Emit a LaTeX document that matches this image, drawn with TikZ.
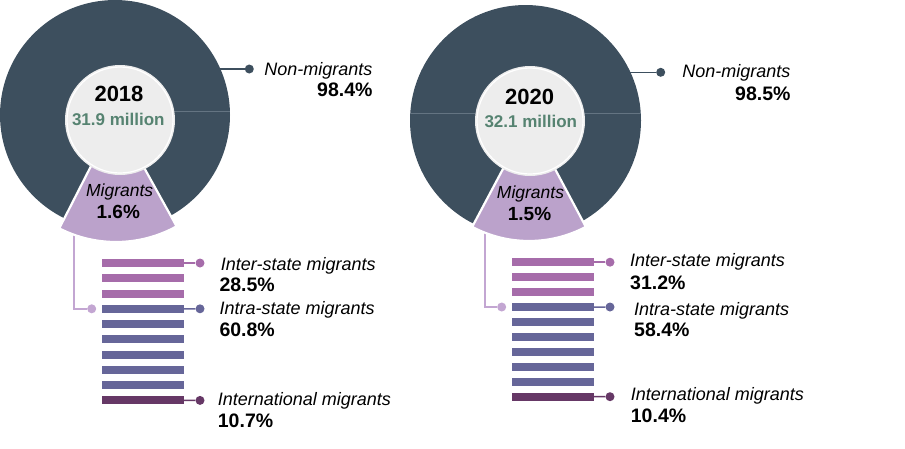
\documentclass[tikz,border=0pt]{standalone}
\usepackage{fontspec}
\setmainfont{Liberation Sans}
\definecolor{ringcol}{RGB}{61,79,94}
\definecolor{ringline}{RGB}{100,116,130}
\definecolor{wedgecol}{RGB}{187,162,203}
\definecolor{innerfill}{RGB}{237,237,237}
\definecolor{millioncol}{RGB}{86,131,113}
\definecolor{intercol}{RGB}{166,108,170}
\definecolor{intracol}{RGB}{102,102,153}
\definecolor{intlcol}{RGB}{102,56,102}
\definecolor{linkcol}{RGB}{195,166,210}
\begin{document}
\begin{tikzpicture}[x=1pt,y=-1pt,
  dot/.style={circle,inner sep=0pt,minimum size=9pt},
  barbox/.style={rectangle,inner sep=0pt,minimum width=82pt,minimum height=8pt},
  lbl/.style={font=\fontsize{18}{20}\selectfont\itshape,inner sep=0pt},
  pct/.style={font=\fontsize{19.5}{22}\selectfont\bfseries,inner sep=0pt},
  yearlbl/.style={font=\fontsize{22}{24}\selectfont\bfseries,inner sep=0pt,anchor=base},
  millbl/.style={font=\fontsize{17}{19}\selectfont\bfseries,text=millioncol,inner sep=0pt,anchor=base},
  miglbl/.style={font=\fontsize{17.5}{19}\selectfont\itshape,inner sep=0pt,anchor=base},
  migpct/.style={font=\fontsize{19}{21}\selectfont\bfseries,inner sep=0pt,anchor=base},
  link/.style={line width=1.5pt}
]
\useasboundingbox (0,0) rectangle (905,448);

% ================= Chart 2018 =================
\coordinate (c1) at (115,115);
\coordinate (e1) at (216,69);
\coordinate (w1) at (74,230);
\node[dot, fill=linkcol] (l1) at (91.7,308.8) {};
\draw[linkcol, link] (w1) |- (l1);
\fill[ringcol] (c1) circle[radius=115];
\draw[ringline, line width=0.8pt] (170,111) -- (229.9,111);
\filldraw[fill=wedgecol, draw=white, line width=2.2pt] (116,117) -- +(61:125) arc[start angle=61, end angle=117, radius=125] -- cycle;
\fill[innerfill] (120,120) circle[radius=55];
\draw[white, line width=1.2pt] (120,120) circle[radius=53];
\node[yearlbl] (y1) at (119,101.7) {2018};
\node[millbl] (m1) at (118.3,125) {31.9 million};
\node[miglbl] (g1) at (119.7,196) {Migrants};
\node[migpct] (p1) at (118.3,218.3) {1.6\%};

\node[dot, fill=ringcol] (n1) at (249.3,69) {};
\draw[ringcol, link] (e1) -- (n1);
\node[lbl, anchor=base east] (nl1) at (372.7,75) {Non-migrants};
\node[pct, anchor=base east] (np1) at (372.7,96.7) {98.4\%};

\foreach \i/\c in {0/intercol,1/intercol,2/intercol,3/intracol,4/intracol,5/intracol,6/intracol,7/intracol,8/intracol,9/intlcol}
  \node[barbox, fill=\c] (a\i) at (142.5,{263+15.27*\i}) {};
\node[dot, fill=intercol] (ai) at (200,263) {};
\node[dot, fill=intracol] (aa) at (200,308.8) {};
\node[dot, fill=intlcol] (ao) at (200,400.4) {};
\draw[intercol, link] (a0.east) -- (ai);
\draw[intracol, link] (a3.east) -- (aa);
\draw[intlcol, link] (a9.east) -- (ao);
\node[lbl, anchor=base west] (ti1) at (220.7,270) {Inter-state migrants};
\node[pct, anchor=base west] (vi1) at (219.3,291.7) {28.5\%};
\node[lbl, anchor=base west] (ta1) at (219.3,314) {Intra-state migrants};
\node[pct, anchor=base west] (va1) at (219.3,336.7) {60.8\%};
\node[lbl, anchor=base west] (to1) at (217.7,405.7) {International migrants};
\node[pct, anchor=base west] (vo1) at (217.7,427.3) {10.7\%};

% ================= Chart 2020 =================
\coordinate (c2) at (525.5,120.5);
\coordinate (e2) at (625,72.3);
\coordinate (w2) at (485,230);
\node[dot, fill=linkcol] (l2) at (501.7,307) {};
\draw[linkcol, link] (w2) |- (l2);
\fill[ringcol] (c2) circle[radius=115.5];
\draw[ringline, line width=0.8pt] (410.3,113) -- (480,113);
\draw[ringline, line width=0.8pt] (580,113) -- (640.7,113);
\filldraw[fill=wedgecol, draw=white, line width=2.2pt] (529,120) -- +(62:121) arc[start angle=62, end angle=118, radius=121] -- cycle;
\fill[innerfill] (530,121) circle[radius=55];
\draw[white, line width=1.2pt] (530,121) circle[radius=53];
\node[yearlbl] (y2) at (529.7,104.3) {2020};
\node[millbl] (m2) at (530.8,127.7) {32.1 million};
\node[miglbl] (g2) at (530.5,198.3) {Migrants};
\node[migpct] (p2) at (529.5,220) {1.5\%};

\node[dot, fill=ringcol] (n2) at (660.7,72.3) {};
\draw[ringcol, link] (e2) -- (n2);
\node[lbl, anchor=base east] (nl2) at (790.7,77.3) {Non-migrants};
\node[pct, anchor=base east] (np2) at (790.7,100) {98.5\%};

\foreach \i/\c in {0/intercol,1/intercol,2/intercol,3/intracol,4/intracol,5/intracol,6/intracol,7/intracol,8/intracol,9/intlcol}
  \node[barbox, fill=\c, minimum width=82.3pt] (b\i) at (552.85,{262.2+14.94*\i}) {};
\node[dot, fill=intercol] (bi) at (610,262.2) {};
\node[dot, fill=intracol] (ba) at (610,307) {};
\node[dot, fill=intlcol] (bo) at (610,396.7) {};
\draw[intercol, link] (b0.east) -- (bi);
\draw[intracol, link] (b3.east) -- (ba);
\draw[intlcol, link] (b9.east) -- (bo);
\node[lbl, anchor=base west] (ti2) at (630,266.7) {Inter-state migrants};
\node[pct, anchor=base west] (vi2) at (630,289.3) {31.2\%};
\node[lbl, anchor=base west] (ta2) at (634,315) {Intra-state migrants};
\node[pct, anchor=base west] (va2) at (634,336.7) {58.4\%};
\node[lbl, anchor=base west] (to2) at (630.7,400.7) {International migrants};
\node[pct, anchor=base west] (vo2) at (630.7,422.7) {10.4\%};
\end{tikzpicture}
\end{document}
